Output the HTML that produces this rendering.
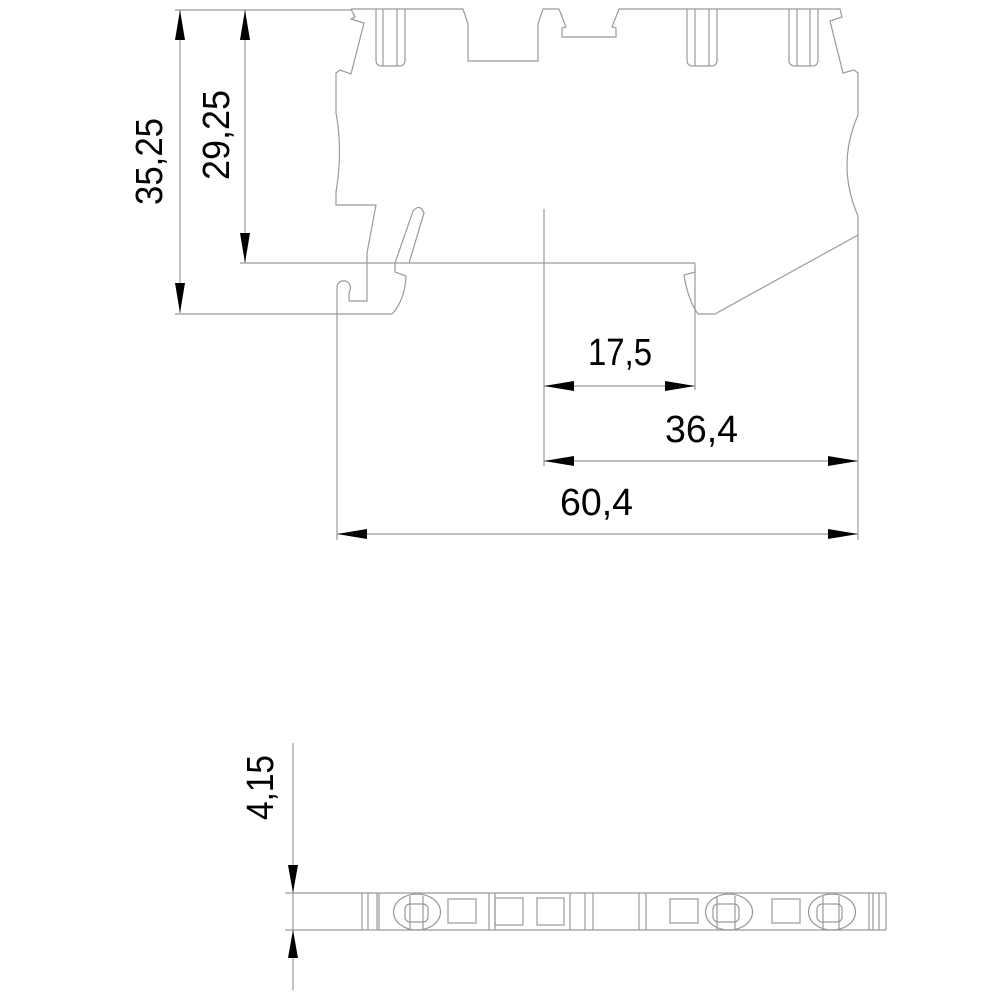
<!DOCTYPE html>
<html><head><meta charset="utf-8"><style>html,body{margin:0;padding:0;background:#fff}svg{display:block}</style></head>
<body>
<svg width="1000" height="1000" viewBox="0 0 1000 1000" xmlns="http://www.w3.org/2000/svg">
<g fill="none" stroke="#9a9a9a" stroke-width="1.2">
<line x1="175" y1="10" x2="351" y2="10"/>
<line x1="175" y1="314" x2="392" y2="314"/>
<line x1="240" y1="263" x2="695" y2="263"/>
<line x1="544" y1="209" x2="544" y2="466"/>
<line x1="695" y1="263" x2="695" y2="390"/>
<line x1="858" y1="216" x2="858" y2="540"/>
<line x1="337" y1="287" x2="337" y2="540"/>
<line x1="180" y1="10" x2="180" y2="313"/>
<line x1="245" y1="10" x2="245" y2="263"/>
<line x1="544" y1="386" x2="695" y2="386"/>
<line x1="544" y1="461" x2="858" y2="461"/>
<line x1="337" y1="534" x2="858" y2="534"/>
<path d="M351,9 L355,17 L351,19 L364,23 L351,74 L340,70 L336,73 L336,113 Q343,150 336,192 L336,205 L376,205 L367,253 L367,301 L349,301 L349,293 Q353,285 346,281 Q338,280 337,287"/>
<path d="M351,9 L463,9 L468,24 L468,61 L538,61 L538,24 L543,9 L559,9 L566,27 L562,28 L562,37 L616,37 L616,28 L612,27 L619,9 L840,9 L842,17 L830,21 L843,73 L854,70 L858,73 L858,115 Q836,165 858,216"/>
<path d="M395,263 L413,211 Q420,203 424,213 L409,263"/>
<path d="M395,263 L395,272 L406,276 Q405,300 392,314"/>
<path d="M695,272 L684,275 Q688,300 698,314 L715,314 L858,235"/>
<path d="M376,9 L376,60 Q376,66 382,66 L399,66 Q405,66 405,60 L405,9 M383,9 L383,66 M397,9 L397,66"/>
<path d="M687,9 L687,60 Q687,66 693,66 L711,66 Q717,66 717,60 L717,9 M695,9 L695,66 M709,9 L709,66"/>
<path d="M789,9 L789,60 Q789,66 795,66 L812,66 Q818,66 818,60 L818,9 M797,9 L797,66 M810,9 L810,66"/>
<!-- bottom part -->
<line x1="293" y1="743" x2="293" y2="990"/>
<line x1="285" y1="893" x2="886" y2="893"/>
<line x1="285" y1="930" x2="886" y2="930"/>
<line x1="886" y1="893" x2="886" y2="930"/>
<path d="M362,893V930M368,893V930M377,893V930M379,893V930M489,893V930M495,893V930M570,893V930M585,893V930M593,893V930M639,893V930M646,893V930M869,893V930M873,893V930M879,893V930"/>
<rect x="448" y="899" width="28" height="24"/>
<rect x="495" y="898" width="28" height="27"/>
<rect x="537" y="898" width="27" height="27"/>
<rect x="670" y="899" width="28" height="24"/>
<rect x="772" y="899" width="28" height="24"/>
<ellipse cx="417" cy="912" rx="23.5" ry="18"/>
<rect x="405" y="904" width="23" height="18" rx="5"/>
<path d="M410,896V930M423,896V930"/>
<ellipse cx="729" cy="912" rx="23.5" ry="18"/>
<rect x="713" y="904" width="26" height="18" rx="5"/>
<path d="M717,896V930M735,896V930"/>
<ellipse cx="832" cy="912" rx="23.5" ry="18"/>
<rect x="817" y="904" width="25" height="18" rx="5"/>
<path d="M823,896V930M839,896V930"/>
</g>
<g fill="#000">
<polygon points="180,10 175,40 185,40"/>
<polygon points="180,313 175,283 185,283"/>
<polygon points="245,10 240,40 250,40"/>
<polygon points="245,263 240,233 250,233"/>
<polygon points="544,386 574,381 574,391"/>
<polygon points="695,386 665,381 665,391"/>
<polygon points="544,461 574,456 574,466"/>
<polygon points="858,461 828,456 828,466"/>
<polygon points="337,534 367,529 367,539"/>
<polygon points="858,534 828,529 828,539"/>
<polygon points="293,893 288,865 298,865"/>
<polygon points="293,930 288,958 298,958"/>
</g>
<g font-family="'Liberation Sans', sans-serif" font-size="38" fill="#000">
<text x="588" y="365" textLength="64" lengthAdjust="spacingAndGlyphs">17,5</text>
<text x="665" y="442" textLength="73" lengthAdjust="spacingAndGlyphs">36,4</text>
<text x="560" y="515" textLength="73" lengthAdjust="spacingAndGlyphs">60,4</text>
<text transform="translate(162,205) rotate(-90)" textLength="87" lengthAdjust="spacingAndGlyphs">35,25</text>
<text transform="translate(229,180) rotate(-90)" textLength="90" lengthAdjust="spacingAndGlyphs">29,25</text>
<text transform="translate(273,820) rotate(-90)" textLength="65" lengthAdjust="spacingAndGlyphs">4,15</text>
</g>
</svg>
</body></html>
